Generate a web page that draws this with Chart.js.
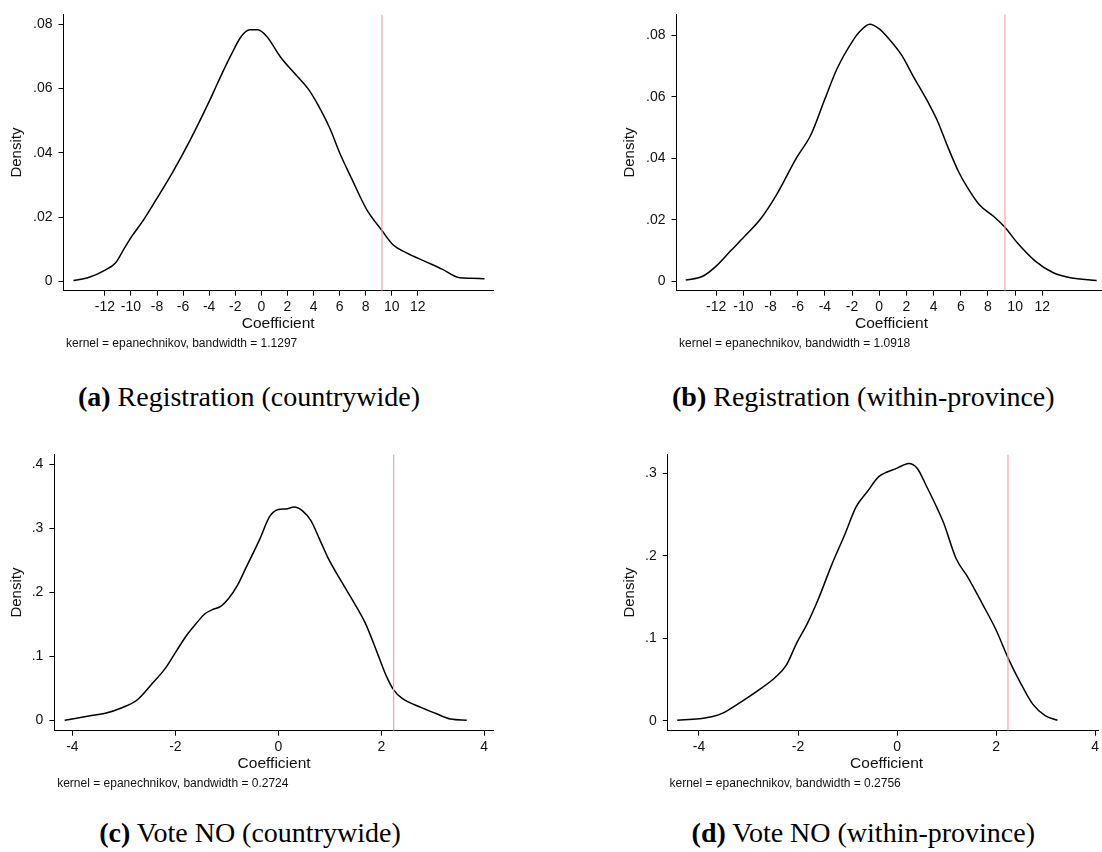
<!DOCTYPE html>
<html>
<head>
<meta charset="utf-8">
<script src="https://cdn.jsdelivr.net/npm/chart.js@4.4.1/dist/chart.umd.min.js"></script>
<style>
    body { margin: 0; background: #fff; }
    #page { position: relative; width: 1102px; height: 852px; overflow: hidden; }
    canvas { position: absolute; }
    .lbl { position: absolute; white-space: nowrap; color: #111; font-family: "Liberation Sans", Arial, sans-serif; }
    .xt { font-size: 15.5px; transform: translate(-50%, -50%); }
    .note { font-size: 12px; transform: translateY(-50%); }
    .cap { font-family: "Liberation Serif", "Times New Roman", serif; font-size: 28px; color: #000; transform: translate(-50%, -50%); }
</style>
</head>
<body>
<div id="page"></div>
<script>
// Kernel density curves (coefficient, density)
const regCountryX = [-14.41, -13.31, -11.98, -11.17, -10.63, -9.95, -9.15, -8.07, -6.86, -5.51, -3.98, -3.36, -2.28, -1.53, -0.89, -0.27, 0.40, 1.48, 2.56, 3.63, 4.31, 5.25, 6.05, 6.86, 8.07, 9.23, 10.09, 11.17, 12.51, 13.86, 15.21, 16.01, 17.11];
const regCountryY = [0.0003, 0.0011, 0.0035, 0.0058, 0.0094, 0.0139, 0.0184, 0.0254, 0.0335, 0.0435, 0.0561, 0.0616, 0.0707, 0.0762, 0.0782, 0.0782, 0.0762, 0.0697, 0.0646, 0.0596, 0.0551, 0.0476, 0.0395, 0.0325, 0.0224, 0.0159, 0.0114, 0.0088, 0.0063, 0.0038, 0.0011, 0.0010, 0.0008];

const regProvX = [-14.24, -13.03, -12.0, -10.97, -9.94, -8.65, -7.62, -6.07, -5.04, -4.01, -3.10, -1.94, -1.42, -0.70, 0.0, 0.64, 1.67, 2.45, 3.61, 4.26, 5.03, 5.80, 6.45, 7.35, 8.51, 9.23, 10.19, 11.48, 12.77, 14.06, 16.0];
const regProvY = [0.0005, 0.0016, 0.0050, 0.0098, 0.0145, 0.0208, 0.0277, 0.0403, 0.0476, 0.0592, 0.0692, 0.0783, 0.0813, 0.0836, 0.0821, 0.0792, 0.0734, 0.0671, 0.0581, 0.0524, 0.0439, 0.0360, 0.0308, 0.0250, 0.0208, 0.0177, 0.0124, 0.0066, 0.0029, 0.0012, 0.0003];

const voteCountryX = [-4.15, -3.63, -3.36, -3.05, -2.75, -2.47, -2.20, -2.0, -1.79, -1.59, -1.42, -1.28, -1.12, -0.97, -0.80, -0.63, -0.36, -0.17, 0.0, 0.15, 0.31, 0.47, 0.63, 0.80, 0.97, 1.24, 1.41, 1.69, 1.92, 2.09, 2.24, 2.40, 2.77, 3.05, 3.35, 3.66];
const voteCountryY = [0.0005, 0.008, 0.0115, 0.0197, 0.0318, 0.056, 0.081, 0.106, 0.132, 0.152, 0.167, 0.173, 0.178, 0.190, 0.210, 0.238, 0.283, 0.318, 0.329, 0.330, 0.333, 0.327, 0.312, 0.283, 0.253, 0.215, 0.192, 0.152, 0.106, 0.071, 0.048, 0.035, 0.0206, 0.0115, 0.0024, 0.0005];

const voteProvX = [-4.44, -4.0, -3.72, -3.51, -3.22, -2.87, -2.45, -2.24, -2.02, -1.81, -1.60, -1.32, -1.04, -0.83, -0.61, -0.37, -0.19, -0.01, 0.09, 0.23, 0.41, 0.59, 0.80, 0.94, 1.19, 1.44, 1.72, 2.0, 2.25, 2.50, 2.74, 2.99, 3.24];
const voteProvY = [0.0004, 0.0023, 0.005, 0.0094, 0.020, 0.034, 0.053, 0.067, 0.095, 0.118, 0.146, 0.189, 0.228, 0.259, 0.277, 0.296, 0.302, 0.306, 0.309, 0.312, 0.306, 0.285, 0.259, 0.240, 0.197, 0.173, 0.142, 0.110, 0.075, 0.045, 0.020, 0.0062, 0.0004];

// tick labels
const regXTicks = [-12, -10, -8, -6, -4, -2, 0, 2, 4, 6, 8, 10, 12];
const regYTicks = [0, 0.02, 0.04, 0.06, 0.08];
const voteXTicks = [-4, -2, 0, 2, 4];
const voteCountryYTicks = [0, 0.1, 0.2, 0.3, 0.4];
const voteProvYTicks = [0, 0.1, 0.2, 0.3];

// observed coefficient (red reference line)
const regCutoff = 9.25;
const voteCutoff = 2.24;

const noteTexts = [
    "kernel = epanechnikov, bandwidth = 1.1297",
    "kernel = epanechnikov, bandwidth = 1.0918",
    "kernel = epanechnikov, bandwidth = 0.2724",
    "kernel = epanechnikov, bandwidth = 0.2756"
];
const captionTags = ["(a)", "(b)", "(c)", "(d)"];
const captionTexts = ["Registration (countrywide)", "Registration (within-province)", "Vote NO (countrywide)", "Vote NO (within-province)"];

const FONT = '"Liberation Sans", Arial, sans-serif';

// panel layout: canvas box, plot area, axis ranges, label spots
const panels = [
    { xs: regCountryX, ys: regCountryY, xTicks: regXTicks, yTicks: regYTicks, cutoff: regCutoff,
      xRange: [-15.17, 17.8], yRange: [-0.0029, 0.083],
      box: { left: 0, top: 0, w: 500, h: 320 }, area: { left: 63.5, top: 6, right: 493.5, bottom: 290.7 }, densX: 16.8,
      xt: [278.2, 323], note: [66, 343], cap: [249, 397] },
    { xs: regProvX, ys: regProvY, xTicks: regXTicks, yTicks: regYTicks, cutoff: regCutoff,
      xRange: [-14.92, 16.39], yRange: [-0.003, 0.0868],
      box: { left: 552, top: 0, w: 550, h: 320 }, area: { left: 676.5, top: 6, right: 1102, bottom: 290.7 }, densX: 629.9,
      xt: [891.5, 323], note: [679, 343], cap: [863.3, 397] },
    { xs: voteCountryX, ys: voteCountryY, xTicks: voteXTicks, yTicks: voteCountryYTicks, cutoff: voteCutoff,
      xRange: [-4.35, 4.18], yRange: [-0.0157, 0.415],
      box: { left: 0, top: 440, w: 500, h: 320 }, area: { left: 54.4, top: 446, right: 493.5, bottom: 730.7 }, densX: 16.8,
      xt: [274.1, 763.3], note: [57.2, 783.3], cap: [250, 833] },
    { xs: voteProvX, ys: voteProvY, xTicks: voteXTicks, yTicks: voteProvYTicks, cutoff: voteCutoff,
      xRange: [-4.63, 4.07], yRange: [-0.0122, 0.323],
      box: { left: 552, top: 440, w: 550, h: 320 }, area: { left: 667.8, top: 446, right: 1102, bottom: 730.7 }, densX: 629.9,
      xt: [886.6, 763.3], note: [669.5, 783.3], cap: [863.3, 833] }
];

const X_AXIS_H = 25;
const TITLE_PAD = 7.8;
const TITLE_HALF = 9; // half line height of the 15px axis title

function fmtTick(v) {
    if (v === 0) return "0";
    return String(v).replace("0.", ".");
}

function addLabel(cls, html, pos) {
    const el = document.createElement("div");
    el.className = "lbl " + cls;
    el.innerHTML = html;
    el.style.left = pos[0] + "px";
    el.style.top = pos[1] + "px";
    document.getElementById("page").appendChild(el);
}

function axisStyle(tickList, range, fitFn) {
    return {
        type: "linear",
        min: range[0],
        max: range[1],
        afterBuildTicks: s => { s.ticks = tickList.map(v => ({ value: v })); },
        afterFit: fitFn,
        grid: { display: true, drawOnChartArea: false, drawTicks: true, tickLength: 5, tickColor: "#000", tickWidth: 1 },
        border: { display: true, color: "#000", width: 1 },
        ticks: { color: "#111", font: { family: FONT, size: 14 }, padding: 6, autoSkip: false, maxRotation: 0, callback: v => fmtTick(v) }
    };
}

panels.forEach((p, i) => {
    const cv = document.createElement("canvas");
    cv.width = p.box.w;
    cv.height = p.box.h;
    cv.style.left = p.box.left + "px";
    cv.style.top = p.box.top + "px";
    cv.style.width = p.box.w + "px";
    cv.style.height = p.box.h + "px";
    document.getElementById("page").appendChild(cv);

    const padLeft = p.densX - TITLE_HALF - TITLE_PAD - p.box.left;
    const yW = p.area.left - p.box.left - padLeft;
    const pad = {
        left: padLeft,
        top: p.area.top - p.box.top,
        right: p.box.left + p.box.w - p.area.right,
        bottom: p.box.top + p.box.h - p.area.bottom - X_AXIS_H
    };

    const curve = p.xs.map((x, k) => ({ x: x, y: p.ys[k] }));

    const xAxis = axisStyle(p.xTicks, p.xRange, s => { s.height = X_AXIS_H; });
    xAxis.ticks.padding = 3;
    const yAxis = axisStyle(p.yTicks, p.yRange, s => { s.width = yW; });
    yAxis.title = { display: true, text: "Density", color: "#111", font: { family: FONT, size: 15 }, padding: { top: TITLE_PAD, bottom: 0 } };

    new Chart(cv, {
        type: "scatter",
        data: {
            datasets: [
                {
                    data: [{ x: p.cutoff, y: p.yRange[0] }, { x: p.cutoff, y: p.yRange[1] }],
                    showLine: true, borderColor: "#f5a3a3", borderWidth: 1.2, pointRadius: 0
                },
                {
                    data: curve,
                    showLine: true, borderColor: "#000", borderWidth: 1.5, pointRadius: 0,
                    cubicInterpolationMode: "monotone"
                }
            ]
        },
        options: {
            responsive: false,
            animation: false,
            devicePixelRatio: 1,
            layout: { padding: pad },
            plugins: { legend: { display: false }, tooltip: { enabled: false } },
            scales: { x: xAxis, y: yAxis }
        }
    });

    addLabel("xt", "Coefficient", p.xt);
    addLabel("note", noteTexts[i], p.note);
    addLabel("cap", "<b>" + captionTags[i] + "</b> " + captionTexts[i], p.cap);
});
</script>
</body>
</html>
